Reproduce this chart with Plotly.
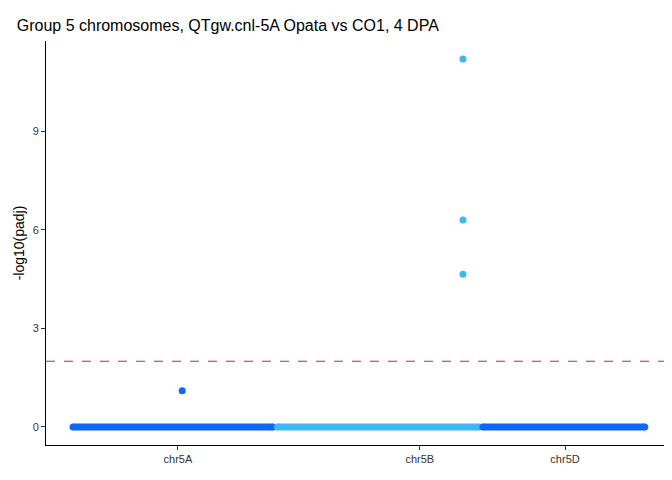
import plotly.graph_objects as go

# cumulative genome position in Mb
chroms = ["chr5A", "chr5B", "chr5D"]
chrom_start = [0, 725, 1454]
chrom_end = [709, 1440, 2028]
tick_pos = [372, 1230, 1745]
chrom_colors = ["#0F67F7", "#3DB8F5", "#0F67F7"]

# significant/non-zero genes
hit_chrom = ["chr5A", "chr5B", "chr5B", "chr5B"]
hit_pos = [387, 1383, 1383, 1383]
hit_padj = [1.1, 11.2, 6.3, 4.65]

threshold = 2

fig = go.Figure()
for c, s, e, col in zip(chroms, chrom_start, chrom_end, chrom_colors):
    fig.add_trace(go.Scatter(x=[s, e], y=[0, 0], mode="lines+markers",
                             line=dict(color=col, width=7),
                             marker=dict(color=col, size=7), showlegend=False))
for c, x, y in zip(hit_chrom, hit_pos, hit_padj):
    col = chrom_colors[chroms.index(c)]
    fig.add_trace(go.Scatter(x=[x], y=[y], mode="markers",
                             marker=dict(color=col, size=7), showlegend=False))

fig.add_hline(y=threshold, layer="above", opacity=1,
              line=dict(color="#E0201B", width=1.2, dash="dash"))

fig.update_layout(
    width=672, height=480, plot_bgcolor="white", paper_bgcolor="white",
    margin=dict(l=38, r=7, t=33, b=43, autoexpand=False),
    font=dict(family="Liberation Sans, Arial", color="#333333"),
    title=dict(text="Group 5 chromosomes, QTgw.cnl-5A Opata vs CO1, 4 DPA",
               x=0.013, xanchor="left", y=0.975, font=dict(size=16, color="black")),
)
fig.update_xaxes(range=[-96, 2128], tickvals=tick_pos, ticktext=chroms, automargin=False,
                 showgrid=False, zeroline=False, showline=True, linecolor="black",
                 ticks="outside", ticklen=4, tickcolor="#333333", tickfont=dict(size=11))
fig.update_yaxes(range=[-0.55, 11.75], tickvals=[0, 3, 6, 9], automargin=False,
                 title=dict(text="-log10(padj)", font=dict(size=14, color="black"), standoff=4),
                 showgrid=False, zeroline=False, showline=True, linecolor="black",
                 ticks="outside", ticklen=4, tickcolor="#333333", tickfont=dict(size=11))

fig.write_html("out.html")
